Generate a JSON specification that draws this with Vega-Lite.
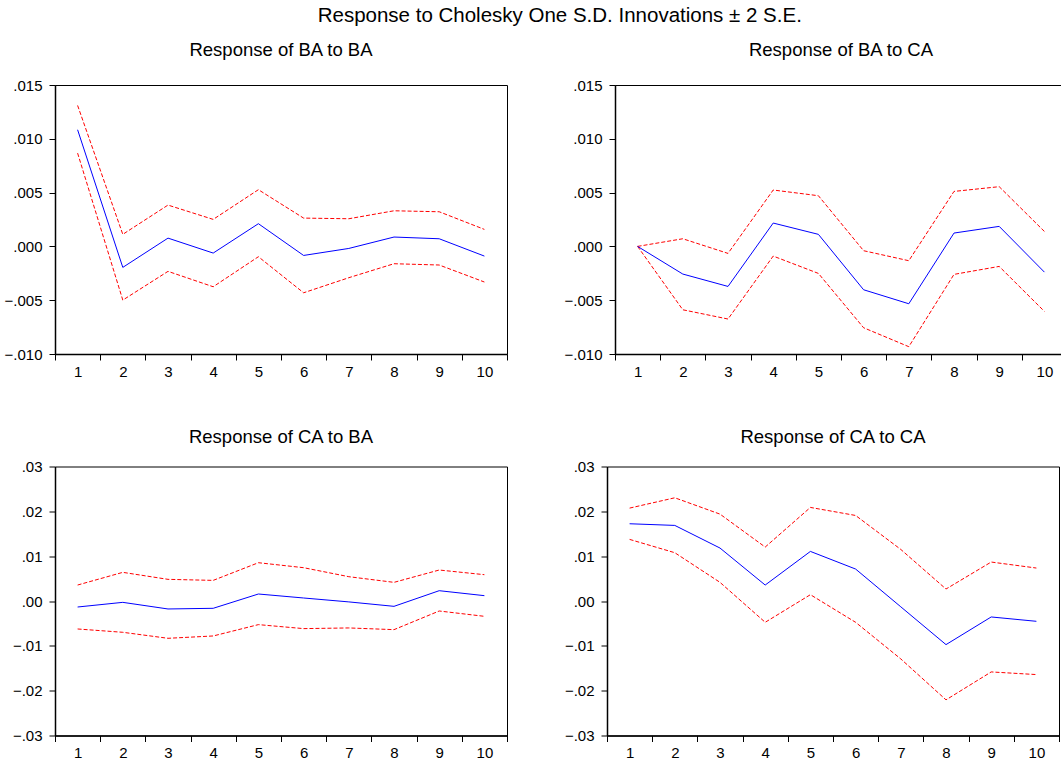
{
  "$schema": "https://vega.github.io/schema/vega-lite/v6.json",
  "padding": {"left": 3, "top": 5, "right": 0, "bottom": 0},
  "background": "white",
  "title": {"text": "Response to Cholesky One S.D. Innovations ± 2 S.E.", "fontSize": 20.5, "offset": 14, "anchor": "middle", "dx": 24},
  "data": {"values": [
    {"p": "BA to BA", "x": 1, "mid": 0.01084, "up": 0.0131, "lo": 0.00867},
    {"p": "BA to BA", "x": 2, "mid": -0.00195, "up": 0.00112, "lo": -0.00499},
    {"p": "BA to BA", "x": 3, "mid": 0.00077, "up": 0.00384, "lo": -0.00232},
    {"p": "BA to BA", "x": 4, "mid": -0.00062, "up": 0.00251, "lo": -0.00375},
    {"p": "BA to BA", "x": 5, "mid": 0.00211, "up": 0.00527, "lo": -0.00096},
    {"p": "BA to BA", "x": 6, "mid": -0.00084, "up": 0.00263, "lo": -0.00431},
    {"p": "BA to BA", "x": 7, "mid": -0.00019, "up": 0.00257, "lo": -0.00291},
    {"p": "BA to BA", "x": 8, "mid": 0.00087, "up": 0.00331, "lo": -0.00161},
    {"p": "BA to BA", "x": 9, "mid": 0.00071, "up": 0.00322, "lo": -0.00173},
    {"p": "BA to BA", "x": 10, "mid": -0.0009, "up": 0.00158, "lo": -0.00331},
    {"p": "BA to CA", "x": 1, "mid": 0, "up": 0, "lo": 0},
    {"p": "BA to CA", "x": 2, "mid": -0.00257, "up": 0.00071, "lo": -0.00589},
    {"p": "BA to CA", "x": 3, "mid": -0.00372, "up": -0.00065, "lo": -0.00675},
    {"p": "BA to CA", "x": 4, "mid": 0.00217, "up": 0.00524, "lo": -0.0009},
    {"p": "BA to CA", "x": 5, "mid": 0.00112, "up": 0.00471, "lo": -0.00251},
    {"p": "BA to CA", "x": 6, "mid": -0.00403, "up": -0.0004, "lo": -0.00756},
    {"p": "BA to CA", "x": 7, "mid": -0.00533, "up": -0.00133, "lo": -0.00932},
    {"p": "BA to CA", "x": 8, "mid": 0.00124, "up": 0.00511, "lo": -0.0026},
    {"p": "BA to CA", "x": 9, "mid": 0.00186, "up": 0.00555, "lo": -0.00186},
    {"p": "BA to CA", "x": 10, "mid": -0.00239, "up": 0.00139, "lo": -0.00604},
    {"p": "CA to BA", "x": 1, "mid": -0.00134, "up": 0.00356, "lo": -0.00624},
    {"p": "CA to BA", "x": 2, "mid": -0.0003, "up": 0.00639, "lo": -0.00698},
    {"p": "CA to BA", "x": 3, "mid": -0.00178, "up": 0.00483, "lo": -0.00832},
    {"p": "CA to BA", "x": 4, "mid": -0.00163, "up": 0.0046, "lo": -0.0078},
    {"p": "CA to BA", "x": 5, "mid": 0.00156, "up": 0.00854, "lo": -0.00527},
    {"p": "CA to BA", "x": 6, "mid": 0.00067, "up": 0.00743, "lo": -0.00616},
    {"p": "CA to BA", "x": 7, "mid": -0.0002, "up": 0.00542, "lo": -0.00601},
    {"p": "CA to BA", "x": 8, "mid": -0.00119, "up": 0.00416, "lo": -0.00639},
    {"p": "CA to BA", "x": 9, "mid": 0.0023, "up": 0.00691, "lo": -0.00223},
    {"p": "CA to BA", "x": 10, "mid": 0.00119, "up": 0.00587, "lo": -0.00342},
    {"p": "CA to CA", "x": 1, "mid": 0.01723, "up": 0.02072, "lo": 0.01374},
    {"p": "CA to CA", "x": 2, "mid": 0.01686, "up": 0.02302, "lo": 0.01077},
    {"p": "CA to CA", "x": 3, "mid": 0.01181, "up": 0.01938, "lo": 0.00416},
    {"p": "CA to CA", "x": 4, "mid": 0.00356, "up": 0.01203, "lo": -0.00475},
    {"p": "CA to CA", "x": 5, "mid": 0.01106, "up": 0.02087, "lo": 0.00141},
    {"p": "CA to CA", "x": 6, "mid": 0.00713, "up": 0.01908, "lo": -0.00475},
    {"p": "CA to CA", "x": 7, "mid": -0.0013, "up": 0.0115, "lo": -0.01292},
    {"p": "CA to CA", "x": 8, "mid": -0.00973, "up": 0.00267, "lo": -0.02205},
    {"p": "CA to CA", "x": 9, "mid": -0.00356, "up": 0.00869, "lo": -0.01582},
    {"p": "CA to CA", "x": 10, "mid": -0.00453, "up": 0.00735, "lo": -0.01641}
  ]},
  "config": {
    "font": "Liberation Sans",
    "view": {"stroke": "black", "strokeWidth": 1},
    "axis": {"domainColor": "black", "domainWidth": 1.5, "tickColor": "black", "tickSize": 6, "labelColor": "black", "labelFontSize": 15, "labelFont": "Liberation Sans", "title": null, "grid": false, "labelPadding": 4},
    "axisX": {"labelAngle": 0, "tickBand": "extent"},
    "axisY": {"labelPadding": 7},
    "title": {"fontSize": 18.5, "fontWeight": "normal", "color": "black", "font": "Liberation Sans"}
  },
  "vconcat": [
    {
      "hconcat": [
        {
          "width": 452, "height": 269,
          "title": {"text": "Response of BA to BA", "offset": 19},
          "transform": [{"filter": "datum.p === 'BA to BA'"}],
          "encoding": {"x": {"field": "x", "type": "ordinal", "scale": {"type": "band", "paddingInner": 0, "paddingOuter": 0}, "axis": {"title": null}}},
          "layer": [
            {"mark": {"type": "rule", "color": "black", "strokeWidth": 1}, "encoding": {"y": {"datum": 0, "type": "quantitative", "scale": {"domain": [-0.01, 0.015], "nice": false, "zero": false}, "axis": {"values": [-0.01, -0.005, 0, 0.005, 0.01, 0.015], "labelExpr": "replace(format(datum.value, '.3f'), '0.', '.')"}}}},
            {"mark": {"type": "line", "color": "#ff0000", "strokeWidth": 1, "strokeDash": [4, 2]}, "encoding": {"y": {"field": "up", "type": "quantitative", "scale": {"domain": [-0.01, 0.015], "nice": false, "zero": false}, "axis": {"values": [-0.01, -0.005, 0, 0.005, 0.01, 0.015], "labelExpr": "replace(format(datum.value, '.3f'), '0.', '.')"}}}},
            {"mark": {"type": "line", "color": "#ff0000", "strokeWidth": 1, "strokeDash": [4, 2]}, "encoding": {"y": {"field": "lo", "type": "quantitative", "scale": {"domain": [-0.01, 0.015], "nice": false, "zero": false}, "axis": {"values": [-0.01, -0.005, 0, 0.005, 0.01, 0.015], "labelExpr": "replace(format(datum.value, '.3f'), '0.', '.')"}}}},
            {"mark": {"type": "line", "color": "#0000ff", "strokeWidth": 1}, "encoding": {"y": {"field": "mid", "type": "quantitative", "scale": {"domain": [-0.01, 0.015], "nice": false, "zero": false}, "axis": {"values": [-0.01, -0.005, 0, 0.005, 0.01, 0.015], "labelExpr": "replace(format(datum.value, '.3f'), '0.', '.')"}}}}
          ]
        },
        {
          "width": 452, "height": 269,
          "title": {"text": "Response of BA to CA", "offset": 19},
          "transform": [{"filter": "datum.p === 'BA to CA'"}],
          "encoding": {"x": {"field": "x", "type": "ordinal", "scale": {"type": "band", "paddingInner": 0, "paddingOuter": 0}, "axis": {"title": null}}},
          "layer": [
            {"mark": {"type": "rule", "color": "black", "strokeWidth": 1}, "encoding": {"y": {"datum": 0, "type": "quantitative", "scale": {"domain": [-0.01, 0.015], "nice": false, "zero": false}, "axis": {"values": [-0.01, -0.005, 0, 0.005, 0.01, 0.015], "labelExpr": "replace(format(datum.value, '.3f'), '0.', '.')"}}}},
            {"mark": {"type": "line", "color": "#ff0000", "strokeWidth": 1, "strokeDash": [4, 2]}, "encoding": {"y": {"field": "up", "type": "quantitative", "scale": {"domain": [-0.01, 0.015], "nice": false, "zero": false}, "axis": {"values": [-0.01, -0.005, 0, 0.005, 0.01, 0.015], "labelExpr": "replace(format(datum.value, '.3f'), '0.', '.')"}}}},
            {"mark": {"type": "line", "color": "#ff0000", "strokeWidth": 1, "strokeDash": [4, 2]}, "encoding": {"y": {"field": "lo", "type": "quantitative", "scale": {"domain": [-0.01, 0.015], "nice": false, "zero": false}, "axis": {"values": [-0.01, -0.005, 0, 0.005, 0.01, 0.015], "labelExpr": "replace(format(datum.value, '.3f'), '0.', '.')"}}}},
            {"mark": {"type": "line", "color": "#0000ff", "strokeWidth": 1}, "encoding": {"y": {"field": "mid", "type": "quantitative", "scale": {"domain": [-0.01, 0.015], "nice": false, "zero": false}, "axis": {"values": [-0.01, -0.005, 0, 0.005, 0.01, 0.015], "labelExpr": "replace(format(datum.value, '.3f'), '0.', '.')"}}}}
          ]
        }
      ],
      "spacing": 55
    },
    {
      "hconcat": [
        {
          "width": 452, "height": 269,
          "title": {"text": "Response of CA to BA", "offset": 13},
          "transform": [{"filter": "datum.p === 'CA to BA'"}],
          "encoding": {"x": {"field": "x", "type": "ordinal", "scale": {"type": "band", "paddingInner": 0, "paddingOuter": 0}, "axis": {"title": null}}},
          "layer": [
            {"mark": {"type": "rule", "color": "#333333", "strokeWidth": 1}, "encoding": {"y": {"datum": 0, "type": "quantitative", "scale": {"domain": [-0.03, 0.03], "nice": false, "zero": false}, "axis": {"values": [-0.03, -0.02, -0.01, 0, 0.01, 0.02, 0.03], "labelExpr": "replace(format(datum.value, '.2f'), '0.', '.')"}}}},
            {"mark": {"type": "line", "color": "#ff0000", "strokeWidth": 1, "strokeDash": [4, 2]}, "encoding": {"y": {"field": "up", "type": "quantitative", "scale": {"domain": [-0.03, 0.03], "nice": false, "zero": false}, "axis": {"values": [-0.03, -0.02, -0.01, 0, 0.01, 0.02, 0.03], "labelExpr": "replace(format(datum.value, '.2f'), '0.', '.')"}}}},
            {"mark": {"type": "line", "color": "#ff0000", "strokeWidth": 1, "strokeDash": [4, 2]}, "encoding": {"y": {"field": "lo", "type": "quantitative", "scale": {"domain": [-0.03, 0.03], "nice": false, "zero": false}, "axis": {"values": [-0.03, -0.02, -0.01, 0, 0.01, 0.02, 0.03], "labelExpr": "replace(format(datum.value, '.2f'), '0.', '.')"}}}},
            {"mark": {"type": "line", "color": "#0000ff", "strokeWidth": 1}, "encoding": {"y": {"field": "mid", "type": "quantitative", "scale": {"domain": [-0.03, 0.03], "nice": false, "zero": false}, "axis": {"values": [-0.03, -0.02, -0.01, 0, 0.01, 0.02, 0.03], "labelExpr": "replace(format(datum.value, '.2f'), '0.', '.')"}}}}
          ]
        },
        {
          "width": 452, "height": 269,
          "title": {"text": "Response of CA to CA", "offset": 13},
          "transform": [{"filter": "datum.p === 'CA to CA'"}],
          "encoding": {"x": {"field": "x", "type": "ordinal", "scale": {"type": "band", "paddingInner": 0, "paddingOuter": 0}, "axis": {"title": null}}},
          "layer": [
            {"mark": {"type": "rule", "color": "#333333", "strokeWidth": 1}, "encoding": {"y": {"datum": 0, "type": "quantitative", "scale": {"domain": [-0.03, 0.03], "nice": false, "zero": false}, "axis": {"values": [-0.03, -0.02, -0.01, 0, 0.01, 0.02, 0.03], "labelExpr": "replace(format(datum.value, '.2f'), '0.', '.')"}}}},
            {"mark": {"type": "line", "color": "#ff0000", "strokeWidth": 1, "strokeDash": [4, 2]}, "encoding": {"y": {"field": "up", "type": "quantitative", "scale": {"domain": [-0.03, 0.03], "nice": false, "zero": false}, "axis": {"values": [-0.03, -0.02, -0.01, 0, 0.01, 0.02, 0.03], "labelExpr": "replace(format(datum.value, '.2f'), '0.', '.')"}}}},
            {"mark": {"type": "line", "color": "#ff0000", "strokeWidth": 1, "strokeDash": [4, 2]}, "encoding": {"y": {"field": "lo", "type": "quantitative", "scale": {"domain": [-0.03, 0.03], "nice": false, "zero": false}, "axis": {"values": [-0.03, -0.02, -0.01, 0, 0.01, 0.02, 0.03], "labelExpr": "replace(format(datum.value, '.2f'), '0.', '.')"}}}},
            {"mark": {"type": "line", "color": "#0000ff", "strokeWidth": 1}, "encoding": {"y": {"field": "mid", "type": "quantitative", "scale": {"domain": [-0.03, 0.03], "nice": false, "zero": false}, "axis": {"values": [-0.03, -0.02, -0.01, 0, 0.01, 0.02, 0.03], "labelExpr": "replace(format(datum.value, '.2f'), '0.', '.')"}}}}
          ]
        }
      ],
      "spacing": 55
    }
  ],
  "spacing": 47.5
}
